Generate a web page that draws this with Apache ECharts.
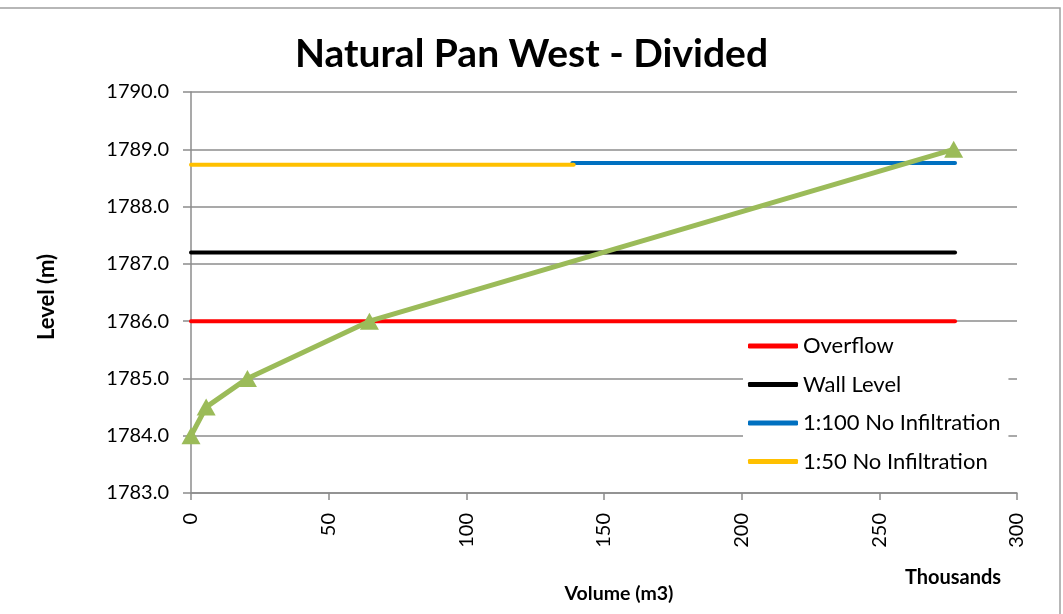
<!DOCTYPE html>
<html>
<head>
<meta charset="utf-8">
<script src="https://cdn.jsdelivr.net/npm/echarts@6/dist/echarts.min.js"></script>
<style>
  html, body { margin: 0; padding: 0; background: #fff; }
  #chart { width: 1063px; height: 614px; }
</style>
</head>
<body>
<div id="chart"></div>
<script>
// Stage–storage curve of the pan (volume in m3, level in m)
const curveVolume = [0, 5500, 20500, 64800, 277000];
const curveLevel = [1784.0, 1784.5, 1785.0, 1786.0, 1789.0];

// Reference levels, each drawn as a flat line between two volumes
const overflowVolume = [0, 277500];
const overflowLevel = [1786.0, 1786.0];
const wallVolume = [0, 277500];
const wallLevel = [1787.2, 1787.2];
const flood100Volume = [138500, 277500];
const flood100Level = [1788.76, 1788.76];
const flood50Volume = [0, 139000];
const flood50Level = [1788.73, 1788.73];

const xTicks = { min: 0, max: 300000, step: 50000 };
const yTicks = { min: 1783, max: 1790, step: 1 };

const FONT = 'Lato, "Open Sans", sans-serif';
const GRID_COLOR = '#8c8c8c';

function pairs(xs, ys) { return xs.map((x, i) => [x, ys[i]]); }

function flatLine(name, color, xs, ys) {
  return {
    name, type: 'line', data: pairs(xs, ys),
    showSymbol: false, symbol: 'none',
    lineStyle: { color, width: 4, cap: 'round' },
    itemStyle: { color },
    z: 3, animation: false
  };
}

function label(text, x, y, size, rotation) {
  return {
    type: 'text', x, y, rotation: rotation || 0, silent: true,
    style: {
      text, fontFamily: FONT, fontSize: size, fontWeight: 'bold', fill: '#000',
      align: 'center', verticalAlign: 'middle'
    }
  };
}

const chart = echarts.init(document.getElementById('chart'));
chart.setOption({
  backgroundColor: '#fff',
  animation: false,
  title: {
    text: 'Natural Pan West - Divided',
    left: 'center', top: 30,
    textStyle: { fontFamily: FONT, fontSize: 39, fontWeight: 'bold', color: '#000' }
  },
  grid: { left: 191, right: 46, top: 92, bottom: 121, containLabel: false },
  legend: {
    data: ['Overflow', 'Wall Level', '1:100 No Infiltration', '1:50 No Infiltration'],
    orient: 'vertical',
    left: 743, top: 329,
    padding: [6, 8, 6, 5],
    backgroundColor: '#fff',
    icon: 'roundRect',
    itemWidth: 50, itemHeight: 5,
    itemGap: 16.5,
    textStyle: { fontFamily: FONT, fontSize: 22, color: '#000', lineHeight: 22 }
  },
  xAxis: {
    type: 'value',
    min: xTicks.min, max: xTicks.max, interval: xTicks.step,
    axisLine: { lineStyle: { color: GRID_COLOR, width: 1.5 } },
    axisTick: { show: true, length: 7, lineStyle: { color: GRID_COLOR, width: 1.5 } },
    splitLine: { show: false },
    axisLabel: {
      rotate: 90, margin: 20, color: '#000',
      fontFamily: FONT, fontSize: 20,
      formatter: v => String(v / 1000)
    }
  },
  yAxis: {
    type: 'value',
    min: yTicks.min, max: yTicks.max, interval: yTicks.step,
    axisLine: { show: true, lineStyle: { color: GRID_COLOR, width: 1.5 } },
    axisTick: { show: true, length: 8, lineStyle: { color: GRID_COLOR, width: 1.5 } },
    splitLine: { show: true, lineStyle: { color: GRID_COLOR, width: 1.5 } },
    axisLabel: {
      margin: 22, color: '#000',
      fontFamily: FONT, fontSize: 20,
      formatter: v => v.toFixed(1)
    }
  },
  graphic: [
    {
      type: 'rect', silent: true, z: -1,
      shape: { x: -2, y: 8, width: 1062, height: 620 },
      style: { fill: 'none', stroke: '#a0a0a0', lineWidth: 1.5 }
    },
    label('Volume (m3)', 619, 594, 19.5),
    label('Thousands', 953, 578, 20),
    label('Level (m)', 47, 297, 22, Math.PI / 2)
  ],
  series: [
    flatLine('Overflow', '#ff0000', overflowVolume, overflowLevel),
    flatLine('Wall Level', '#000000', wallVolume, wallLevel),
    flatLine('1:100 No Infiltration', '#0070c0', flood100Volume, flood100Level),
    flatLine('1:50 No Infiltration', '#ffc000', flood50Volume, flood50Level),
    {
      name: 'Stage Storage', type: 'line', data: pairs(curveVolume, curveLevel),
      symbol: 'triangle', symbolSize: [19, 17], showSymbol: true,
      lineStyle: { color: '#9bbb59', width: 5 },
      itemStyle: { color: '#9bbb59' },
      clip: false, z: 4
    }
  ]
});
</script>
</body>
</html>
